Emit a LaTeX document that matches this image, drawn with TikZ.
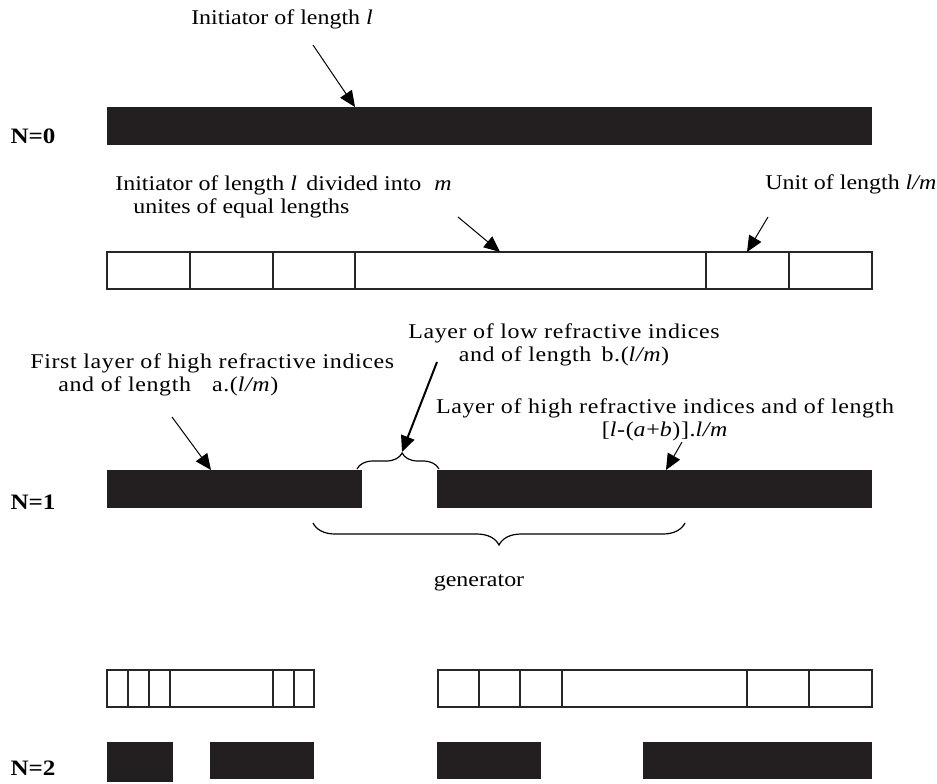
\documentclass[tikz,border=0pt]{standalone}
\usepackage{fontspec}
\setmainfont{Liberation Serif}[FakeStretch=1.14]
\usetikzlibrary{arrows.meta,decorations.pathreplacing}
\definecolor{barfill}{HTML}{231F20}
\begin{document}
\begin{tikzpicture}[x=0.5pt,y=-0.5pt,
  lbl/.style={inner sep=0pt,font=\fontsize{10.5}{11.8}\selectfont},
  spaced/.style={font=\fontsize{10.5}{11.8}\selectfont\addfontfeatures{LetterSpace=3}},
  nlbl/.style={inner sep=0pt,font=\fontsize{11}{12}\selectfont\bfseries},
  layer/.style={fill=barfill},
  cell/.style={draw=black!85,line width=0.8pt},
  ptr/.style={-{Triangle[length=8pt,width=7pt]},line width=0.5pt},
  thickptr/.style={-{Triangle[length=8pt,width=7pt]},line width=1pt},
  brc/.style={decorate,line width=0.6pt}]
\useasboundingbox (0,0) rectangle (937,783);

% ---------- N=0 ----------
\node[nlbl] (n0) at (33,136) {N=0};
\fill[layer] (107,107) rectangle (872,145);
\node[lbl] (t0) at (282,19) {Initiator of length \textit{l}};
\coordinate (a0s) at (313,45);
\coordinate (a0e) at (355,107);
\draw[ptr] (a0s) -- (a0e);

% ---------- divided initiator ----------
\draw[cell] (107,252) rectangle (872,289);
\foreach \x in {190,273,355,706,789} \draw[cell] (\x,252) -- (\x,289);
\node[lbl,align=left,anchor=west] (t1) at (115,197)
  {Initiator of length \textit{l}\, divided into\,\, \textit{m}\\\hspace*{9pt}unites of equal lengths};
\node[lbl,anchor=west] (t2) at (765,184) {Unit of length \textit{l/m}};
\coordinate (a1s) at (458,217);
\coordinate (a1e) at (500,252);
\draw[ptr] (a1s) -- (a1e);
\coordinate (a2s) at (768,217);
\coordinate (a2e) at (747,252);
\draw[ptr] (a2s) -- (a2e);

% ---------- N=1 ----------
\node[nlbl] (n1) at (33,502) {N=1};
\fill[layer] (107,470) rectangle (362,508);
\fill[layer] (437,470) rectangle (872,508);
\node[lbl,spaced,align=left,anchor=west] (t3) at (30,375)
  {First layer of high refractive indices\\\hspace*{14pt}and of length\quad a.(\textit{l/m})};
\node[lbl,spaced,align=center] (t4) at (564,345)
  {Layer of low refractive indices\\ and of length\, b.(\textit{l/m})};
\node[lbl,spaced,align=center] (t5) at (665,420)
  {Layer of high refractive indices and of length\\ {[}\textit{l}-(\textit{a}+\textit{b})].\textit{l/m}};
\coordinate (a3s) at (172,417);
\coordinate (a3e) at (211,470);
\draw[ptr] (a3s) -- (a3e);
\coordinate (a4s) at (437,362);
\coordinate (a4e) at (402,452);
\draw[thickptr] (a4s) -- (a4e);
\coordinate (a5s) at (682,442);
\coordinate (a5e) at (666,470);
\draw[ptr] (a5s) -- (a5e);

\coordinate (b1l) at (357,469);
\coordinate (b1r) at (439,469);
\draw[brc,decoration={brace,amplitude=8pt,aspect=0.55}] (b1l) -- (b1r);
\coordinate (b2r) at (685,523);
\coordinate (b2l) at (313,523);
\draw[brc,decoration={brace,amplitude=11pt}] (b2r) -- (b2l);
\node[lbl] (gen) at (479,583) {generator};

% ---------- N=2 ----------
\draw[cell] (107,670) rectangle (314,707);
\foreach \x in {128,149,170,273,294} \draw[cell] (\x,670) -- (\x,707);
\draw[cell] (438,670) rectangle (872,707);
\foreach \x in {479,520,562,747,809} \draw[cell] (\x,670) -- (\x,707);
\node[nlbl] (n2) at (33,768) {N=2};
\fill[layer] (107,742) rectangle (173,782);
\fill[layer] (210,742) rectangle (314,779);
\fill[layer] (437,742) rectangle (541,779);
\fill[layer] (643,742) rectangle (872,779);
\end{tikzpicture}
\end{document}
